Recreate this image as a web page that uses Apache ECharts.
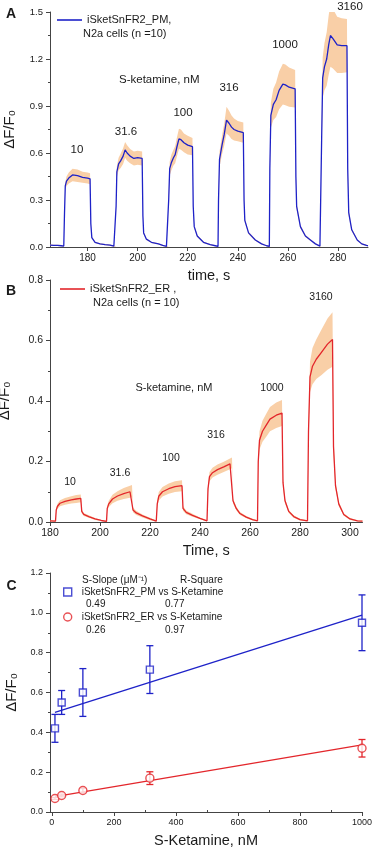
<!DOCTYPE html>
<html>
<head>
<meta charset="utf-8">
<title>iSketSnFR2 S-ketamine responses</title>
<script src="https://cdn.jsdelivr.net/npm/echarts@6.0.0/dist/echarts.min.js"></script>
<style>
  html, body { margin: 0; padding: 0; background: #fff; }
  #chart { width: 373px; height: 850px; }
</style>
</head>
<body>
<div id="chart"></div>
<script>
// ---- panel A: iSketSnFR2_PM trace (time s, mean dF/F0, band half width)
const timeA = [165.0, 166.5, 168.0, 169.5, 170.5, 170.8, 171.1, 171.6, 172.5, 174.0, 176.0, 178.0, 180.0, 181.0,
  181.3, 181.7, 183.0, 185.0, 187.0, 189.0, 190.5, 191.2, 191.4, 191.7, 192.4, 193.2, 194.2, 195.0, 195.8, 197.0,
  198.5, 200.0, 201.8, 202.1, 202.4, 203.5, 205.5, 208.3, 210.0, 211.5, 212.2, 212.4, 212.8, 213.5, 214.3, 215.0,
  215.7, 216.5, 217.3, 218.5, 220.0, 221.9, 222.2, 222.6, 223.8, 226.3, 229.0, 231.0, 232.1, 232.3, 232.7, 233.7,
  234.6, 235.5, 236.5, 237.5, 238.5, 240.0, 242.2, 242.5, 242.8, 244.3, 247.0, 249.5, 251.5, 252.6, 252.8, 253.2,
  254.2, 255.3, 256.5, 258.0, 259.0, 260.5, 262.9, 263.2, 263.5, 265.0, 267.0, 269.0, 271.0, 272.8, 273.2, 273.5,
  273.9, 274.6, 275.5, 276.3, 277.0, 278.0, 279.7, 281.5, 283.6, 283.9, 284.3, 285.5, 287.7, 289.5, 291.4, 292.0];
const meanA = [0.012, 0.010, 0.011, 0.008, 0.006, 0.22, 0.39, 0.42, 0.44, 0.46, 0.455, 0.445, 0.44, 0.435,
  0.15, 0.06, 0.03, 0.02, 0.015, 0.012, 0.005, 0.004, 0.26, 0.48, 0.53, 0.55, 0.58, 0.62, 0.60, 0.58,
  0.565, 0.57, 0.565, 0.2, 0.09, 0.05, 0.03, 0.02, 0.01, 0.004, 0.004, 0.3, 0.50, 0.54, 0.57, 0.59,
  0.64, 0.69, 0.685, 0.665, 0.65, 0.64, 0.26, 0.13, 0.07, 0.03, 0.015, 0.008, 0.004, 0.3, 0.56, 0.65,
  0.72, 0.81, 0.79, 0.765, 0.75, 0.74, 0.73, 0.3, 0.17, 0.09, 0.045, 0.02, 0.008, 0.004, 0.5, 0.84,
  0.91, 0.94, 1.0, 1.04, 1.035, 1.02, 1.01, 0.45, 0.26, 0.13, 0.07, 0.045, 0.02, 0.006, 0.004, 0.7,
  1.08, 1.15, 1.2, 1.29, 1.35, 1.33, 1.29, 1.285, 1.285, 0.5, 0.22, 0.11, 0.045, 0.02, 0.01, 0.008];
const semA = [0.004, 0.004, 0.004, 0.004, 0.004, 0.015, 0.025, 0.03, 0.035, 0.04, 0.04, 0.035, 0.035, 0.035,
  0.012, 0.006, 0.004, 0.004, 0.004, 0.004, 0.003, 0.003, 0.02, 0.035, 0.04, 0.045, 0.05, 0.05, 0.05, 0.045,
  0.045, 0.045, 0.045, 0.015, 0.008, 0.005, 0.004, 0.004, 0.004, 0.003, 0.003, 0.03, 0.045, 0.05, 0.05, 0.055,
  0.06, 0.065, 0.065, 0.06, 0.06, 0.055, 0.02, 0.01, 0.006, 0.005, 0.004, 0.003, 0.003, 0.03, 0.05, 0.06,
  0.07, 0.085, 0.08, 0.075, 0.07, 0.065, 0.065, 0.025, 0.012, 0.008, 0.005, 0.004, 0.003, 0.003, 0.05, 0.08,
  0.1, 0.11, 0.12, 0.13, 0.13, 0.125, 0.12, 0.04, 0.02, 0.01, 0.006, 0.005, 0.004, 0.003, 0.003, 0.07,
  0.13, 0.15, 0.17, 0.19, 0.2, 0.19, 0.18, 0.175, 0.17, 0.05, 0.02, 0.01, 0.005, 0.004, 0.004, 0.004];

// ---- panel B: iSketSnFR2_ER trace
const timeB = [180.0, 182.2, 182.5, 183.0, 184.0, 186.0, 188.5, 190.5, 192.3, 192.7, 193.5, 195.5, 198.0, 200.5,
  202.6, 202.9, 203.5, 205.0, 207.0, 209.5, 212.0, 212.8, 213.2, 214.5, 217.0, 220.0, 222.5, 222.9, 223.5, 225.0,
  227.5, 230.0, 232.8, 233.2, 234.5, 237.0, 240.0, 242.8, 243.2, 243.8, 245.0, 247.0, 249.5, 252.0, 252.8, 253.2,
  254.5, 256.0, 258.5, 261.0, 263.0, 263.3, 263.8, 265.0, 266.5, 268.0, 270.5, 272.8, 273.2, 274.0, 275.5, 277.5,
  280.0, 283.0, 283.4, 284.0, 285.0, 286.5, 288.5, 291.0, 293.0, 293.4, 294.2, 295.5, 297.5, 300.0, 303.0, 305.0];
const meanB = [0.004, 0.003, 0.04, 0.052, 0.062, 0.068, 0.073, 0.076, 0.078, 0.035, 0.025, 0.018, 0.01, 0.005,
  0.002, 0.045, 0.06, 0.076, 0.086, 0.094, 0.1, 0.102, 0.04, 0.03, 0.02, 0.01, 0.003, 0.06, 0.085, 0.1,
  0.11, 0.117, 0.12, 0.045, 0.032, 0.022, 0.012, 0.004, 0.11, 0.15, 0.163, 0.173, 0.182, 0.192, 0.195, 0.07,
  0.045, 0.028, 0.016, 0.008, 0.004, 0.2, 0.27, 0.3, 0.32, 0.34, 0.353, 0.36, 0.13, 0.07, 0.035, 0.018,
  0.008, 0.004, 0.3, 0.48, 0.515, 0.538, 0.56, 0.588, 0.603, 0.25, 0.12, 0.06, 0.025, 0.01, 0.004, 0.003];
const semB = [0.002, 0.002, 0.006, 0.008, 0.01, 0.011, 0.012, 0.013, 0.013, 0.006, 0.005, 0.004, 0.003, 0.002,
  0.002, 0.008, 0.01, 0.014, 0.016, 0.018, 0.02, 0.02, 0.008, 0.007, 0.005, 0.004, 0.002, 0.01, 0.014, 0.016,
  0.017, 0.018, 0.018, 0.008, 0.006, 0.005, 0.003, 0.002, 0.012, 0.015, 0.016, 0.017, 0.017, 0.018, 0.018, 0.008,
  0.006, 0.005, 0.004, 0.003, 0.002, 0.02, 0.03, 0.035, 0.038, 0.04, 0.042, 0.043, 0.015, 0.008, 0.005, 0.004,
  0.003, 0.002, 0.03, 0.05, 0.06, 0.065, 0.075, 0.085, 0.09, 0.03, 0.012, 0.007, 0.004, 0.003, 0.002, 0.002];

// ---- panel C: dose response
const ketamineNM = [10, 31.6, 100, 316, 1000];
const pmMean = [0.42, 0.55, 0.60, 0.715, 0.95];
const pmErr = [0.07, 0.06, 0.12, 0.12, 0.14];
const erMean = [0.068, 0.083, 0.108, 0.17, 0.32];
const erErr = [0.005, 0.007, 0.01, 0.032, 0.044];
const fitX = [10, 1000];
const pmFit = [0.50, 0.988];
const erFit = [0.077, 0.337];
const slopes = ['0.49', '0.26'];
const rSquare = ['0.77', '0.97'];

// labels and ticks
const concLabels = ['10', '31.6', '100', '316', '1000', '3160'];
const ticksA = [180, 200, 220, 240, 260, 280];
const ticksB = [180, 200, 220, 240, 260, 280, 300];
const ticksC = [0, 200, 400, 600, 800, 1000];
const minorC = [100, 300, 500, 700, 900];

const FONT = '"Liberation Sans", Arial, sans-serif';
const BLUE = '#1e22c8';
const RED = '#e3262b';
const BAND = '#f9cfa7';
const AXIS = '#444';
const TXT = '#1a1a1a';

const pairs = (xs, ys) => xs.map((x, i) => [x, ys[i]]);

// shaded band mean +/- sem as one polygon, placed with the axis scales
function bandSeries(axis, xs, mean, sem) {
	return {
		type: 'custom', coordinateSystem: 'cartesian2d', xAxisIndex: axis, yAxisIndex: axis,
		silent: true, z: 1, clip: true,
		data: [[xs[0], mean[0]]], encode: { x: 0, y: 1 },
		renderItem: function (params, api) {
			const upper = xs.map((x, i) => api.coord([x, mean[i] + sem[i]]))
			const lower = xs.map((x, i) => api.coord([x, mean[i] - sem[i]])).reverse()
			return {
				type: 'polygon',
				shape: { points: upper.concat(lower) },
				style: { fill: BAND, stroke: null }
			}
		}
	}
}

function errorBars(color) {
	return function (params, api) {
		const x = api.value(0)
		const lo = api.coord([x, api.value(1)])
		const hi = api.coord([x, api.value(2)])
		const cap = 3.5
		const st = { stroke: color, lineWidth: 1.3 }
		return {
			type: 'group',
			children: [
				{ type: 'line', shape: { x1: lo[0], y1: lo[1], x2: hi[0], y2: hi[1] }, style: st },
				{ type: 'line', shape: { x1: lo[0] - cap, y1: lo[1], x2: lo[0] + cap, y2: lo[1] }, style: st },
				{ type: 'line', shape: { x1: hi[0] - cap, y1: hi[1], x2: hi[0] + cap, y2: hi[1] }, style: st }
			]
		}
	}
}

function xAxisOf(grid, min, max, ticks, name, labelSize) {
	return {
		type: 'value', gridIndex: grid, min: min, max: max,
		name: name, nameLocation: 'middle', nameGap: 21,
		nameTextStyle: { fontFamily: FONT, fontSize: 14.5, color: TXT, verticalAlign: 'top' },
		axisLine: { show: true, onZero: false, lineStyle: { color: AXIS, width: 1 } },
		axisTick: { show: true, length: 4, customValues: ticks, lineStyle: { color: AXIS } },
		axisLabel: {
			customValues: ticks, fontFamily: FONT, fontSize: labelSize, color: TXT, margin: 6,
			formatter: v => String(v)
		},
		splitLine: { show: false }
	}
}

function yAxisOf(grid, max, interval, gap, labelSize) {
	return {
		type: 'value', gridIndex: grid, min: 0, max: max, interval: interval,
		name: 'ΔF/F₀', nameLocation: 'middle', nameRotate: 90, nameGap: gap,
		nameTextStyle: { fontFamily: FONT, fontSize: 15, color: TXT },
		axisLine: { show: true, onZero: false, lineStyle: { color: AXIS, width: 1 } },
		axisTick: { show: true, length: 4, lineStyle: { color: AXIS } },
		minorTick: { show: true, splitNumber: 2, length: 2, lineStyle: { color: AXIS } },
		axisLabel: { fontFamily: FONT, fontSize: labelSize, color: TXT, margin: 7, formatter: v => v.toFixed(1) },
		splitLine: { show: false }
	}
}

function text(x, y, s, size, align, weight) {
	return {
		type: 'text', x: x, y: y, silent: true,
		style: {
			text: s, fill: TXT, fontFamily: FONT, fontSize: size, fontWeight: weight || 'normal',
			textAlign: align || 'center', textVerticalAlign: 'middle',
			align: align || 'center', verticalAlign: 'middle'
		}
	}
}

// where the concentration labels sit (pixels)
const labelPosA = [[77, 150], [126, 132], [183, 113], [229, 88], [285, 45], [350, 7]];
const labelPosB = [[70, 482], [120, 473], [171, 458], [216, 435], [272, 388], [321, 297]];

const graphics = [
	text(11, 14, 'A', 14, 'center', 'bold'),
	text(11, 291, 'B', 14, 'center', 'bold'),
	text(11.5, 586, 'C', 14, 'center', 'bold'),
	text(83, 34, 'N2a cells (n =10)', 11, 'left'),
	text(93, 303, 'N2a cells (n = 10)', 11, 'left'),
	text(119, 80, 'S-ketamine, nM', 11.5, 'left'),
	text(174, 388, 'S-ketamine, nM', 11, 'center'),
	text(82, 580, 'S-Slope (μM⁻¹)', 10, 'left'),
	text(180, 580, 'R-Square', 10, 'left'),
	text(86, 604, slopes[0], 10, 'left'),
	text(165, 604, rSquare[0], 10, 'left'),
	text(86, 630, slopes[1], 10, 'left'),
	text(165, 630, rSquare[1], 10, 'left')
]
concLabels.forEach((s, i) => {
	graphics.push(text(labelPosA[i][0], labelPosA[i][1], s, 11.5))
	graphics.push(text(labelPosB[i][0], labelPosB[i][1], s, 10.5))
})

const chart = echarts.init(document.getElementById('chart'), null, { renderer: 'canvas' })

const option = {
	animation: false,
	backgroundColor: '#fff',
	textStyle: { fontFamily: FONT },
	grid: [
		{ left: 50, top: 12, width: 318, height: 235, outerBoundsMode: 'none' },
		{ left: 50, top: 280, width: 312.5, height: 242, outerBoundsMode: 'none' },
		{ left: 50, top: 573, width: 312, height: 239, outerBoundsMode: 'none' }
	],
	xAxis: [
		xAxisOf(0, 165, 292, ticksA, 'time, s', 10),
		xAxisOf(1, 180, 305, ticksB, 'Time, s', 10.5),
		xAxisOf(2, -6, 1000, ticksC, 'S-Ketamine, nM', 9),
		{
			type: 'value', gridIndex: 2, min: -6, max: 1000,
			axisLine: { show: false },
			axisTick: { show: true, length: 2, customValues: minorC, lineStyle: { color: AXIS } },
			axisLabel: { show: false },
			splitLine: { show: false }
		}
	],
	yAxis: [
		yAxisOf(0, 1.5, 0.3, 33, 9.5),
		yAxisOf(1, 0.8, 0.2, 38, 10.5),
		yAxisOf(2, 1.2, 0.2, 31, 9)
	],
	legend: [
		{
			left: 57, top: 13, padding: 0, itemWidth: 25, itemHeight: 1.6,
			textStyle: { fontFamily: FONT, fontSize: 11, color: TXT, lineHeight: 14 },
			data: [{ name: 'iSketSnFR2_PM,', icon: 'rect' }]
		},
		{
			left: 60, top: 282, padding: 0, itemWidth: 25, itemHeight: 1.6,
			textStyle: { fontFamily: FONT, fontSize: 11, color: TXT, lineHeight: 14 },
			data: [{ name: 'iSketSnFR2_ER ,', icon: 'rect' }]
		},
		{
			left: 63, top: 586, padding: 0, orient: 'vertical', itemWidth: 8, itemHeight: 8, itemGap: 13,
			textStyle: { fontFamily: FONT, fontSize: 10, color: TXT, lineHeight: 12, padding: [0, 0, 0, 5] },
			data: [
				{ name: 'iSketSnFR2_PM vs S-Ketamine', icon: 'rect', itemStyle: { color: '#fff', borderColor: BLUE, borderWidth: 1.4 } },
				{ name: 'iSketSnFR2_ER vs S-Ketamine', icon: 'circle', itemStyle: { color: '#fff', borderColor: RED, borderWidth: 1.4 } }
			]
		}
	],
	graphic: graphics,
	series: [
		bandSeries(0, timeA, meanA, semA),
		{
			name: 'iSketSnFR2_PM,', type: 'line', xAxisIndex: 0, yAxisIndex: 0, z: 3,
			data: pairs(timeA, meanA), symbol: 'none', color: BLUE,
			lineStyle: { color: BLUE, width: 1.3 }
		},
		bandSeries(1, timeB, meanB, semB),
		{
			name: 'iSketSnFR2_ER ,', type: 'line', xAxisIndex: 1, yAxisIndex: 1, z: 3,
			data: pairs(timeB, meanB), symbol: 'none', color: RED,
			lineStyle: { color: RED, width: 1.3 }
		},
		{
			type: 'line', xAxisIndex: 2, yAxisIndex: 2, data: pairs(fitX, pmFit),
			symbol: 'none', silent: true, lineStyle: { color: BLUE, width: 1.3 }
		},
		{
			type: 'line', xAxisIndex: 2, yAxisIndex: 2, data: pairs(fitX, erFit),
			symbol: 'none', silent: true, lineStyle: { color: RED, width: 1.3 }
		},
		{
			type: 'custom', coordinateSystem: 'cartesian2d', xAxisIndex: 2, yAxisIndex: 2,
			renderItem: errorBars(BLUE), encode: { x: 0, y: [1, 2] },
			data: ketamineNM.map((c, i) => [c, pmMean[i] - pmErr[i], pmMean[i] + pmErr[i]])
		},
		{
			type: 'custom', coordinateSystem: 'cartesian2d', xAxisIndex: 2, yAxisIndex: 2,
			renderItem: errorBars(RED), encode: { x: 0, y: [1, 2] },
			data: ketamineNM.map((c, i) => [c, erMean[i] - erErr[i], erMean[i] + erErr[i]])
		},
		{
			name: 'iSketSnFR2_PM vs S-Ketamine', type: 'scatter', xAxisIndex: 2, yAxisIndex: 2,
			data: pairs(ketamineNM, pmMean), symbol: 'rect', symbolSize: 7, z: 5,
			itemStyle: { color: '#fff', borderColor: BLUE, borderWidth: 1.4 }
		},
		{
			name: 'iSketSnFR2_ER vs S-Ketamine', type: 'scatter', xAxisIndex: 2, yAxisIndex: 2,
			data: pairs(ketamineNM, erMean), symbol: 'circle', symbolSize: 8, z: 5,
			itemStyle: { color: '#fff', borderColor: RED, borderWidth: 1.4 }
		}
	]
}

chart.setOption(option)
</script>
</body>
</html>
